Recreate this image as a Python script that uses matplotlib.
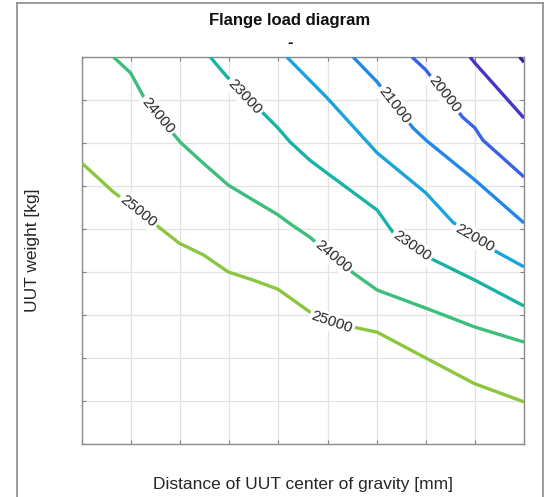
import matplotlib.pyplot as plt
from matplotlib.lines import Line2D

# contour lines (x, y in grid units, 0..9)
x_25000 = [0, 0.64, 0.99, 1.98, 2.47, 2.98, 3.49, 3.99, 4.64, 4.99, 5.60, 6.01, 7.0, 8.0, 9.0]
y_25000 = [6.53, 5.86, 5.56, 4.67, 4.40, 4.00, 3.81, 3.60, 3.07, 2.86, 2.70, 2.60, 2.0, 1.40, 0.98]
x_24000 = [0.64, 0.99, 1.29, 2.0, 2.47, 2.98, 3.49, 3.99, 4.24, 4.64, 4.99, 5.52, 6.01, 7.0, 8.0, 9.0]
y_24000 = [9.0, 8.63, 8.0, 7.02, 6.53, 6.02, 5.67, 5.33, 5.12, 4.81, 4.47, 3.98, 3.58, 3.16, 2.72, 2.37]
x_23000 = [2.61, 2.96, 3.99, 4.24, 4.64, 4.99, 6.01, 6.34, 7.0, 8.0, 9.0]
y_23000 = [9.0, 8.53, 7.35, 7.02, 6.60, 6.30, 5.44, 4.91, 4.37, 3.81, 3.21]
x_22000 = [4.17, 4.99, 6.01, 7.0, 7.55, 8.0, 8.44, 9.0]
y_22000 = [9.0, 8.05, 6.77, 5.84, 5.16, 4.81, 4.47, 4.12]
x_21000 = [5.52, 6.01, 6.74, 7.0, 8.0, 9.0]
y_21000 = [9.0, 8.42, 7.35, 7.07, 6.14, 5.14]
x_20000 = [6.72, 7.0, 7.75, 8.0, 8.16, 9.0]
y_20000 = [9.0, 8.70, 7.60, 7.35, 7.07, 6.21]
x_19000 = [7.90, 8.0, 9.0]
y_19000 = [9.0, 8.86, 7.58]
x_18000 = [8.91, 9.0]
y_18000 = [9.0, 8.88]

levels = [25000, 24000, 23000, 22000, 21000, 20000, 19000, 18000]
xs = [x_25000, x_24000, x_23000, x_22000, x_21000, x_20000, x_19000, x_18000]
ys = [y_25000, y_24000, y_23000, y_22000, y_21000, y_20000, y_19000, y_18000]
colors = ['#8cc63e', '#3dbe7a', '#19b3a5', '#1aa3dc', '#2387e8', '#3a62e6', '#4535c6', '#3b1f9e']

# inline labels: value, x, y, angle
label_vals = [24000, 23000, 21000, 20000, 25000, 24000, 25000, 23000, 22000]
label_x = [1.55, 3.32, 6.37, 7.39, 1.15, 5.11, 5.09, 6.72, 8.0]
label_y = [7.64, 8.08, 7.88, 8.13, 5.42, 4.36, 2.83, 4.60, 4.78]
label_rot = [-50, -47, -52, -52, -39, -40, -19, -35, -30]

plt.rcParams['font.family'] = ['Liberation Sans', 'DejaVu Sans']

fig = plt.figure(figsize=(5.45, 4.97), dpi=100)
ax = fig.add_axes([82 / 545, 53 / 497, 442 / 545, 387 / 497])

for x, y, c in zip(xs, ys, colors):
    ax.plot(x, y, color=c, linewidth=2.4, solid_capstyle='butt', zorder=3)

for val, lx, ly, rot in zip(label_vals, label_x, label_y, label_rot):
    ax.text(lx, ly, str(val), rotation=rot, rotation_mode='anchor',
            ha='center', va='center', fontsize=11, color='#262626', zorder=4,
            bbox=dict(facecolor='white', edgecolor='none', pad=1.5))

ax.set_xlim(0, 9)
ax.set_ylim(0, 9)
ax.set_xticks(range(10))
ax.set_yticks(range(10))
ax.set_xticklabels([])
ax.set_yticklabels([])
ax.tick_params(direction='in', length=3, color='#808080', top=True, right=True)
ax.grid(True, color='#e3e3e3', linewidth=0.9)
ax.set_axisbelow(True)
for s in ax.spines.values():
    s.set_color('#8c8c8c')
    s.set_linewidth(1.0)

fig.text(290 / 545, 1 - 20 / 497, 'Flange load diagram', ha='center', va='center',
         fontsize=12, fontweight='bold', color='#111111')
fig.text(290 / 545, 1 - 42 / 497, '-', ha='center', va='center',
         fontsize=12, fontweight='bold', color='#111111')
fig.text(303 / 545, 1 - 485 / 497, 'Distance of UUT center of gravity [mm]',
         ha='center', va='center', fontsize=12.5, color='#262626')
fig.text(32 / 545, 1 - 250 / 497, 'UUT weight [kg]', ha='center', va='center',
         rotation=90, fontsize=12.5, color='#262626')

# outer frame of the figure window
fl = 17 / 545
fr = 543 / 545
ft = 1 - 3 / 497
fig.add_artist(Line2D([fl, fl], [0, ft], color='#8a8a8a', linewidth=1.2, transform=fig.transFigure))
fig.add_artist(Line2D([fl, fr], [ft, ft], color='#8a8a8a', linewidth=1.2, transform=fig.transFigure))
fig.add_artist(Line2D([fr, fr], [0, ft], color='#8a8a8a', linewidth=1.2, transform=fig.transFigure))

fig.savefig('out.png', dpi=100)
